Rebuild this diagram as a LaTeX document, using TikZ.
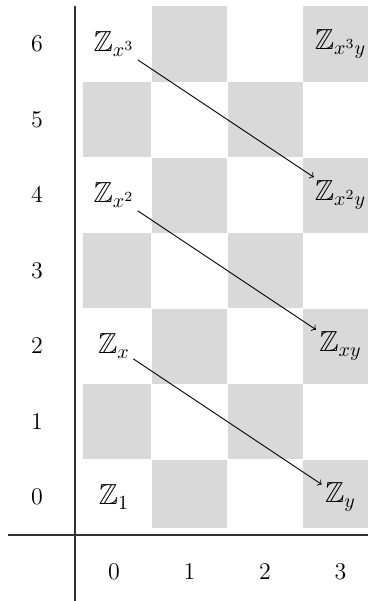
\documentclass[tikz,border=0pt]{standalone}
\usepackage{amssymb}
\begin{document}
\begin{tikzpicture}[x=0.5pt,y=0.5pt,
  cellfill/.style={fill=black!15},
  axis/.style={line width=0.6pt, draw=black!80},
  lbl/.style={font=\fontsize{12.5}{15}\selectfont},
  grp/.style={font=\fontsize{14.5}{17}\selectfont, inner sep=1.5pt},
  diff/.style={->, line width=0.45pt}]
\useasboundingbox (-75,-66) rectangle (293,535);
% checkerboard
\begin{scope}
  \clip (8,8) rectangle (293,535);
  \foreach \c in {0,...,3} {
    \foreach \r in {0,...,6} {
      \pgfmathtruncatemacro{\parity}{mod(\c+\r,2)}
      \ifnum\parity=1
        \fill[cellfill] ({39+75.5*\c-37.5},{38+75.5*\r-37.5}) rectangle ++(75,75);
      \fi
    }
  }
\end{scope}
% axes
\draw[axis] (0,529) -- (0,-66);
\draw[axis] (-67,0) -- (293,0);
% row labels
\foreach \r in {0,...,6} {
  \node[lbl] (row\r) at (-38,{38+75.5*\r}) {$\r$};
}
% column labels
\foreach \c in {0,...,3} {
  \node[lbl] (col\c) at ({39+75.5*\c},-37) {$\c$};
}
% groups
\node[grp] (one) at (39,38) {$\mathbb{Z}_1$};
\node[grp] (x) at (39,189) {$\mathbb{Z}_x$};
\node[grp] (x2) at (39,340) {$\mathbb{Z}_{x^2}$};
\node[grp] (x3) at (39,491) {$\mathbb{Z}_{x^3}$};
\node[grp] (y) at (265.5,38) {$\mathbb{Z}_y$};
\node[grp] (xy) at (265.5,189) {$\mathbb{Z}_{xy}$};
\node[grp] (x2y) at (265.5,340) {$\mathbb{Z}_{x^2y}$};
\node[grp] (x3y) at (265.5,491) {$\mathbb{Z}_{x^3y}$};
% differentials
\draw[diff] (x3) -- (x2y);
\draw[diff] (x2) -- (xy);
\draw[diff] (x) -- (y);
\end{tikzpicture}
\end{document}
